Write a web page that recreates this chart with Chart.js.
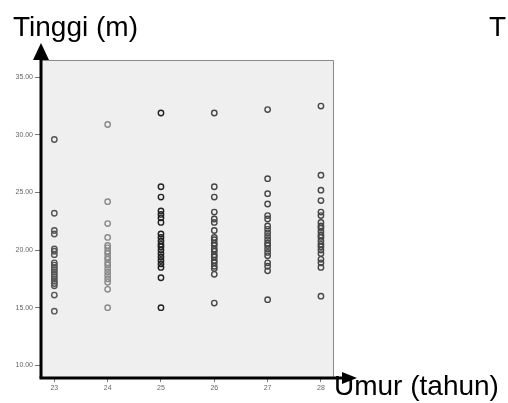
<!DOCTYPE html>
<html>
<head>
<meta charset="utf-8">
<script src="https://cdn.jsdelivr.net/npm/chart.js@4/dist/chart.umd.min.js"></script>
<style>
  html, body { margin: 0; padding: 0; background: #fff; }
  #wrap { width: 508px; height: 403px; }
</style>
</head>
<body>
<div id="wrap"><canvas id="scatter"></canvas></div>
<script>
// Umur (tahun) vs Tinggi (m)
const ages = [23, 24, 25, 26, 27, 28];
const tinggi23 = [29.6, 23.2, 21.7, 21.4, 20.1, 19.9, 19.6, 18.9, 18.7, 18.5, 18.3, 18.1, 17.9, 17.7, 17.5, 17.3, 17.1, 16.9, 16.1, 14.7];
const tinggi24 = [30.9, 24.2, 22.3, 21.1, 20.4, 20.2, 19.9, 19.7, 19.4, 19.2, 18.9, 18.7, 18.4, 18.1, 17.8, 17.5, 17.2, 16.6, 15.0];
const tinggi25 = [31.9, 25.5, 24.6, 23.4, 23.1, 22.8, 22.4, 21.4, 21.1, 20.8, 20.5, 20.3, 20.0, 19.7, 19.4, 19.1, 18.8, 18.5, 17.6, 15.0];
const tinggi26 = [31.9, 25.5, 24.6, 23.3, 22.7, 22.4, 21.7, 21.1, 20.9, 20.6, 20.4, 20.1, 19.9, 19.6, 19.4, 19.1, 18.9, 18.6, 18.4, 17.9, 15.4];
const tinggi27 = [32.2, 26.2, 24.9, 24.0, 23.0, 22.7, 22.1, 21.8, 21.5, 21.2, 20.9, 20.6, 20.4, 20.1, 19.8, 19.5, 18.9, 18.6, 18.2, 15.7];
const tinggi28 = [32.5, 26.5, 25.2, 24.3, 23.3, 23.0, 22.4, 22.1, 21.9, 21.6, 21.3, 21.1, 20.8, 20.5, 20.3, 20.0, 19.7, 19.2, 18.9, 18.5, 16.0];
const yTicks = [10, 15, 20, 25, 30, 35];
const xTicks = [23, 24, 25, 26, 27, 28];

const allSeries = [tinggi23, tinggi24, tinggi25, tinggi26, tinggi27, tinggi28];
const pointColors = ['#555555', '#8a8a8a', '#222222', '#474747', '#474747', '#474747'];

const datasets = allSeries.map((vals, i) => ({
    label: String(ages[i]),
    data: vals.map(v => ({ x: ages[i], y: v })),
    pointRadius: 2.7,
    pointBorderWidth: 1.4,
    pointBackgroundColor: 'rgba(0,0,0,0)',
    pointBorderColor: pointColors[i],
    showLine: false
}));

// plot background, frame, arrow axes and the big labels
const decor = {
    id: 'decor',
    beforeDraw(chart) {
        const { ctx, chartArea: a } = chart;
        ctx.save();
        ctx.fillStyle = '#efefef';
        ctx.fillRect(a.left, a.top, a.right - a.left, a.bottom - a.top);
        ctx.strokeStyle = '#8a8a8a';
        ctx.lineWidth = 1;
        ctx.beginPath();
        ctx.moveTo(a.left, a.top + 0.5);
        ctx.lineTo(a.right - 0.5, a.top + 0.5);
        ctx.lineTo(a.right - 0.5, a.bottom);
        ctx.stroke();
        ctx.restore();
    },
    afterDraw(chart) {
        const { ctx, chartArea: a } = chart;
        ctx.save();
        ctx.strokeStyle = '#000';
        ctx.fillStyle = '#000';
        ctx.lineWidth = 3;
        // y axis with arrow
        ctx.beginPath();
        ctx.moveTo(a.left, a.bottom);
        ctx.lineTo(a.left, a.top - 2);
        ctx.stroke();
        ctx.beginPath();
        ctx.moveTo(a.left, a.top - 17);
        ctx.lineTo(a.left - 8, a.top);
        ctx.lineTo(a.left + 8, a.top);
        ctx.closePath();
        ctx.fill();
        // x axis with arrow
        ctx.beginPath();
        ctx.moveTo(a.left - 1.5, a.bottom);
        ctx.lineTo(a.right + 10, a.bottom);
        ctx.stroke();
        ctx.beginPath();
        ctx.moveTo(a.right + 23, a.bottom);
        ctx.lineTo(a.right + 8, a.bottom - 6);
        ctx.lineTo(a.right + 8, a.bottom + 6);
        ctx.closePath();
        ctx.fill();

        ctx.font = '28px "Liberation Sans", Arial, sans-serif';
        ctx.textBaseline = 'alphabetic';
        ctx.textAlign = 'left';
        ctx.fillText('Tinggi (m)', 13, 36);
        ctx.fillText('Umur (tahun)', 334, 395);
        ctx.fillText('T', 489, 36);
        ctx.restore();
    }
};

const tickFont = { family: '"Liberation Sans", Arial, sans-serif', size: 7 };

new Chart(document.getElementById('scatter'), {
    type: 'scatter',
    data: { datasets },
    options: {
        responsive: true,
        maintainAspectRatio: false,
        animation: false,
        layout: { padding: { top: 60, right: 174, left: 0, bottom: 0 } },
        plugins: { legend: { display: false }, tooltip: { enabled: false } },
        scales: {
            x: {
                type: 'linear',
                min: 22.75,
                max: 28.245,
                afterBuildTicks: s => { s.ticks = xTicks.map(v => ({ value: v })); },
                afterFit: s => { s.height = 25; },
                ticks: { font: tickFont, color: '#666', padding: 2, callback: v => String(v) },
                grid: { drawOnChartArea: false, drawTicks: true, tickLength: 4, color: '#777' },
                border: { display: false }
            },
            y: {
                type: 'linear',
                min: 8.9,
                max: 36.5,
                afterBuildTicks: s => { s.ticks = yTicks.map(v => ({ value: v })); },
                afterFit: s => { s.width = 41; },
                ticks: { font: tickFont, color: '#666', padding: 2, callback: v => Number(v).toFixed(2) },
                grid: { drawOnChartArea: false, drawTicks: true, tickLength: 6, color: '#777' },
                border: { display: false }
            }
        }
    },
    plugins: [decor]
});
</script>
</body>
</html>
